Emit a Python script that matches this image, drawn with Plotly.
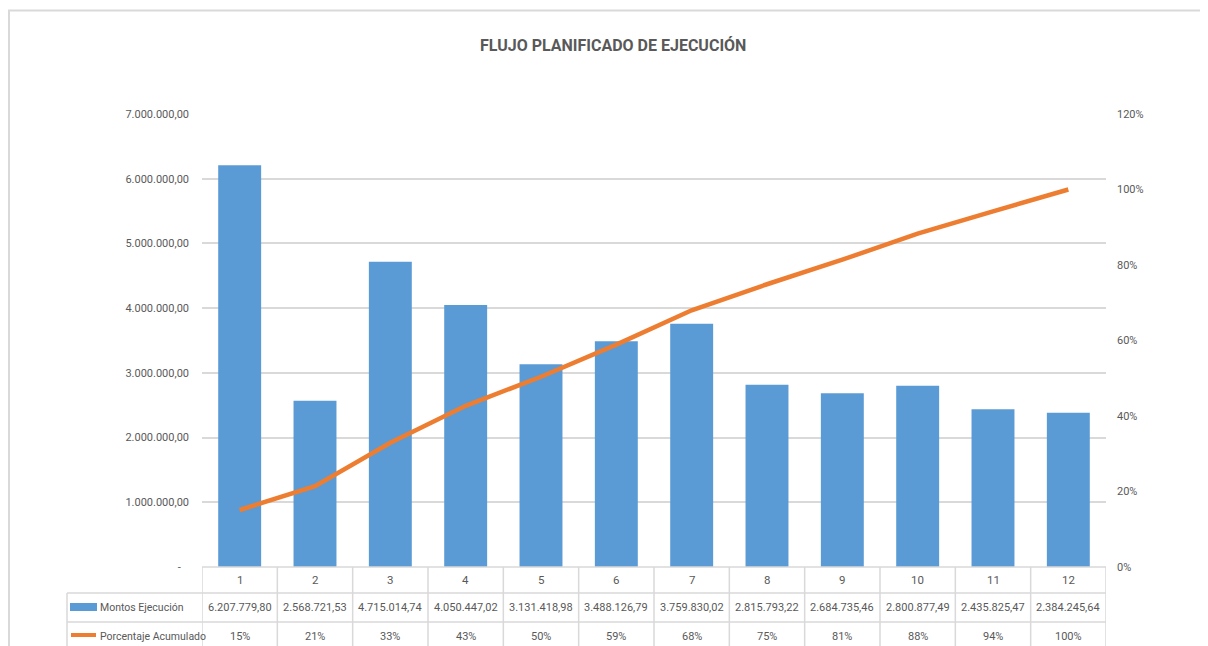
import plotly.graph_objects as go

categories = [1, 2, 3, 4, 5, 6, 7, 8, 9, 10, 11, 12]
montos = [6207779.80, 2568721.53, 4715014.74, 4050447.02, 3131418.98, 3488126.79,
          3759830.02, 2815793.22, 2684735.46, 2800877.49, 2435825.47, 2384245.64]
montos_labels = ["6.207.779,80", "2.568.721,53", "4.715.014,74", "4.050.447,02", "3.131.418,98",
                 "3.488.126,79", "3.759.830,02", "2.815.793,22", "2.684.735,46", "2.800.877,49",
                 "2.435.825,47", "2.384.245,64"]
porcentaje = [0.151, 0.214, 0.329, 0.427, 0.504, 0.589, 0.680, 0.749, 0.814, 0.883, 0.942, 1.00]
porcentaje_labels = ["15%", "21%", "33%", "43%", "50%", "59%", "68%", "75%", "81%", "88%", "94%", "100%"]
left_tickvals = [0, 1e6, 2e6, 3e6, 4e6, 5e6, 6e6, 7e6]
left_ticktext = ["-\u00a0\u00a0\u00a0", "1.000.000,00", "2.000.000,00", "3.000.000,00", "4.000.000,00",
                 "5.000.000,00", "6.000.000,00", "7.000.000,00"]
right_tickvals = [0, 0.2, 0.4, 0.6, 0.8, 1.0, 1.2]
right_ticktext = ["0%", "20%", "40%", "60%", "80%", "100%", "120%"]

# the page body has an 8px margin; work in window pixels and shift
OFF = 8
W, H = 1208 - OFF, 646 - OFF
L, R, T, B = 202, 1106, 114, 567  # plot area in window pixels
FONT = "Roboto, Liberation Sans, sans-serif"
TXT = "#595959"
GRID = "#D9D9D9"
BLUE = "#5B9BD5"
ORANGE = "#ED7D31"


def px(x):
    return (x - L) / (R - L)


def py(y):
    return (B - y) / (B - T)


fig = go.Figure()
fig.add_trace(go.Bar(x=categories, y=montos, name="Montos Ejecución",
                     marker=dict(color=BLUE, line=dict(width=0)), yaxis="y"))
fig.add_trace(go.Scatter(x=categories, y=porcentaje, name="Porcentaje Acumulado",
                         mode="lines", line=dict(color=ORANGE, width=4.5), yaxis="y2"))

shapes = []
# outer chart border
shapes.append(dict(type="line", xref="paper", yref="paper", x0=px(8), x1=px(1210), y0=py(10.5), y1=py(10.5),
                   line=dict(color=GRID, width=2)))
shapes.append(dict(type="line", xref="paper", yref="paper", x0=px(9), x1=px(9), y0=py(10), y1=py(660),
                   line=dict(color=GRID, width=2)))
# table horizontal lines
shapes.append(dict(type="line", xref="paper", yref="paper", x0=0, x1=1, y0=0, y1=0,
                   line=dict(color=GRID, width=1.5)))
for yy in (593, 622):
    shapes.append(dict(type="line", xref="paper", yref="paper", x0=px(67), x1=1, y0=py(yy), y1=py(yy),
                       line=dict(color=GRID, width=1.5)))
# table vertical lines
shapes.append(dict(type="line", xref="paper", yref="paper", x0=px(67), x1=px(67), y0=py(593), y1=py(660),
                   line=dict(color=GRID, width=1.5)))
for k in range(13):
    xv = 0.5 + k
    shapes.append(dict(type="line", xref="x", yref="paper", x0=xv, x1=xv, y0=0, y1=py(660),
                       line=dict(color=GRID, width=1.5)))
# legend keys
shapes.append(dict(type="rect", xref="paper", yref="paper", x0=px(70), x1=px(97), y0=py(611), y1=py(603),
                   fillcolor=BLUE, line=dict(width=0)))
shapes.append(dict(type="line", xref="paper", yref="paper", x0=px(71), x1=px(96), y0=py(635), y1=py(635),
                   line=dict(color=ORANGE, width=4)))

annotations = []
for c, m, p in zip(categories, montos_labels, porcentaje_labels):
    annotations.append(dict(x=c, y=py(580), xref="x", yref="paper", text=str(c), showarrow=False,
                            font=dict(size=11.5, color=TXT, family=FONT), xanchor="center", yanchor="middle"))
    annotations.append(dict(x=c, y=py(607.5), xref="x", yref="paper", text=m, showarrow=False,
                            font=dict(size=11, color=TXT, family=FONT), xanchor="center", yanchor="middle"))
    annotations.append(dict(x=c, y=py(636), xref="x", yref="paper", text=p, showarrow=False,
                            font=dict(size=11, color=TXT, family=FONT), xanchor="center", yanchor="middle"))
annotations.append(dict(x=px(98), y=py(607.5), xref="paper", yref="paper", text="Montos Ejecución",
                        showarrow=False, font=dict(size=10.5, color=TXT, family=FONT),
                        xanchor="left", yanchor="middle"))
annotations.append(dict(x=px(98), y=py(636), xref="paper", yref="paper", text="Porcentaje Acumulado",
                        showarrow=False, font=dict(size=10.5, color=TXT, family=FONT),
                        xanchor="left", yanchor="middle"))
annotations.append(dict(x=px(613), y=py(45), xref="paper", yref="paper",
                        text="<b>FLUJO PLANIFICADO DE EJECUCIÓN</b>", showarrow=False,
                        font=dict(size=16, color=TXT, family=FONT), xanchor="center", yanchor="middle"))

fig.update_layout(
    width=W, height=H,
    margin=dict(l=L - OFF, r=1208 - R, t=T - OFF, b=646 - B, pad=0),
    paper_bgcolor="white", plot_bgcolor="white",
    showlegend=False,
    bargap=0.43,
    xaxis=dict(range=[0.5, 12.5], showticklabels=False, showgrid=False, zeroline=False,
               showline=False, ticks="", fixedrange=True),
    yaxis=dict(range=[0, 7e6], tickvals=left_tickvals, ticktext=left_ticktext,
               showgrid=True, gridcolor=GRID, gridwidth=1.5, zeroline=False, showline=False,
               ticks="", ticklabelstandoff=12,
               tickfont=dict(size=11, color=TXT, family=FONT)),
    yaxis2=dict(range=[0, 1.2], tickvals=right_tickvals, ticktext=right_ticktext,
                overlaying="y", side="right", showgrid=False, zeroline=False, showline=False,
                ticks="", ticklabelstandoff=10,
                tickfont=dict(size=11, color=TXT, family=FONT)),
    shapes=shapes, annotations=annotations,
)

fig.write_html("out.html")
